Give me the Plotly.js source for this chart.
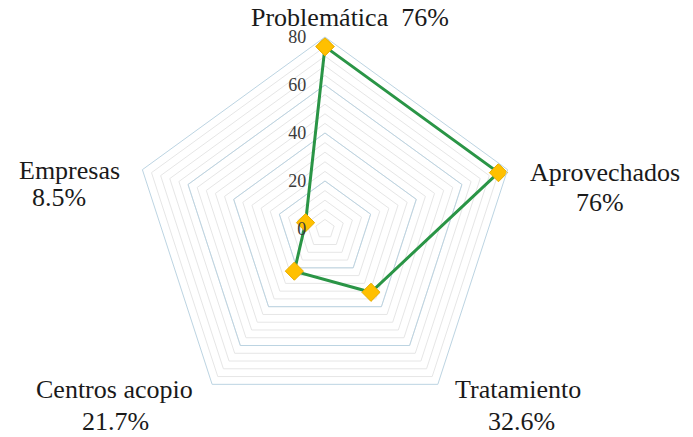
<!DOCTYPE html>
<html>
<head>
<meta charset="utf-8">
<script src="https://cdn.plot.ly/plotly-3.0.1.min.js"></script>
<style>html,body{margin:0;padding:0;background:#fff;}#chart{width:693px;height:437px;}</style>
</head>
<body>
<div id="chart"></div>
<script>
// Data
const categories = ["Problemática", "Aprovechados", "Tratamiento", "Centros acopio", "Empresas"];
const values = [76, 76, 32.6, 21.7, 8.5];
const valueLabels = ["76%", "76%", "32.6%", "21.7%", "8.5%"];
const majorTicks = [0, 20, 40, 60, 80];
const minorTicks = [0, 4, 8, 12, 16, 20, 24, 28, 32, 36, 40, 44, 48, 52, 56, 60, 64, 68, 72, 76, 80];

const rClosed = values.concat([values[0]]);
const thetaClosed = categories.concat([categories[0]]);

const serif = "Liberation Serif, Times New Roman, serif";

const traceGhost = {
  type: "scatterpolar", subplot: "polar",
  r: rClosed, theta: thetaClosed, mode: "lines",
  opacity: 0, hoverinfo: "skip", showlegend: false
};
const trace = {
  type: "scatterpolar", subplot: "polar2",
  r: rClosed, theta: thetaClosed, mode: "lines+markers",
  line: {color: "#2a9546", width: 3},
  marker: {symbol: "diamond", size: 14, color: "#FFC000", line: {color: "#e8ad00", width: 1}},
  showlegend: false
};

const dom = {x: [0.1919, 0.7460], y: [0.0366, 0.9153]};
const angCommon = {
  categoryorder: "array", categoryarray: categories,
  direction: "clockwise", rotation: 90,
  showticklabels: false, ticks: "", showgrid: false
};

// annotation positions (pixels)
const labelPos = [
  {x: 350, y: 18, two: false},
  {x: 605, y: 172, x2: 600, y2: 202},
  {x: 518, y: 389, x2: 521, y2: 421},
  {x: 114, y: 389, x2: 115, y2: 421},
  {x: 69, y: 170, x2: 59, y2: 197}
];
const W = 693, H = 437;
const annotations = [];
categories.forEach((c, i) => {
  const p = labelPos[i];
  const f = {family: serif, size: 26, color: "#1a1a1a"};
  if (p.two === false) {
    annotations.push({xref: "paper", yref: "paper", x: p.x / W, y: 1 - p.y / H,
      xanchor: "center", yanchor: "middle", showarrow: false, text: c + "  " + valueLabels[i], font: f});
  } else {
    annotations.push({xref: "paper", yref: "paper", x: p.x / W, y: 1 - p.y / H,
      xanchor: "center", yanchor: "middle", showarrow: false, text: c, font: f});
    annotations.push({xref: "paper", yref: "paper", x: p.x2 / W, y: 1 - p.y2 / H,
      xanchor: "center", yanchor: "middle", showarrow: false, text: valueLabels[i], font: f});
  }
});

const layout = {
  width: W, height: H,
  margin: {l: 0, r: 0, t: 0, b: 0},
  paper_bgcolor: "#ffffff",
  showlegend: false,
  polar: {
    domain: dom, bgcolor: "#ffffff", gridshape: "linear",
    radialaxis: {range: [0, 80], tickmode: "array", tickvals: minorTicks, showticklabels: false,
      ticks: "", showline: false, gridcolor: "#e6e6e6", gridwidth: 1, angle: 90},
    angularaxis: Object.assign({showline: false}, angCommon)
  },
  polar2: {
    domain: dom, bgcolor: "rgba(0,0,0,0)", gridshape: "linear",
    radialaxis: {range: [0, 80], tickmode: "array", tickvals: majorTicks, showticklabels: true,
      ticks: "outside", ticklen: 12, tickcolor: "rgba(0,0,0,0)", showline: false,
      gridcolor: "#bcd4e2", gridwidth: 1, angle: 90, tickangle: 90,
      side: "counterclockwise", tickfont: {family: serif, size: 18, color: "#3a3a3a"}},
    angularaxis: Object.assign({showline: true, linecolor: "#bcd4e2", linewidth: 1}, angCommon)
  },
  annotations: annotations
};

Plotly.newPlot("chart", [traceGhost, trace], layout, {displayModeBar: false, staticPlot: true});
</script>
</body>
</html>
